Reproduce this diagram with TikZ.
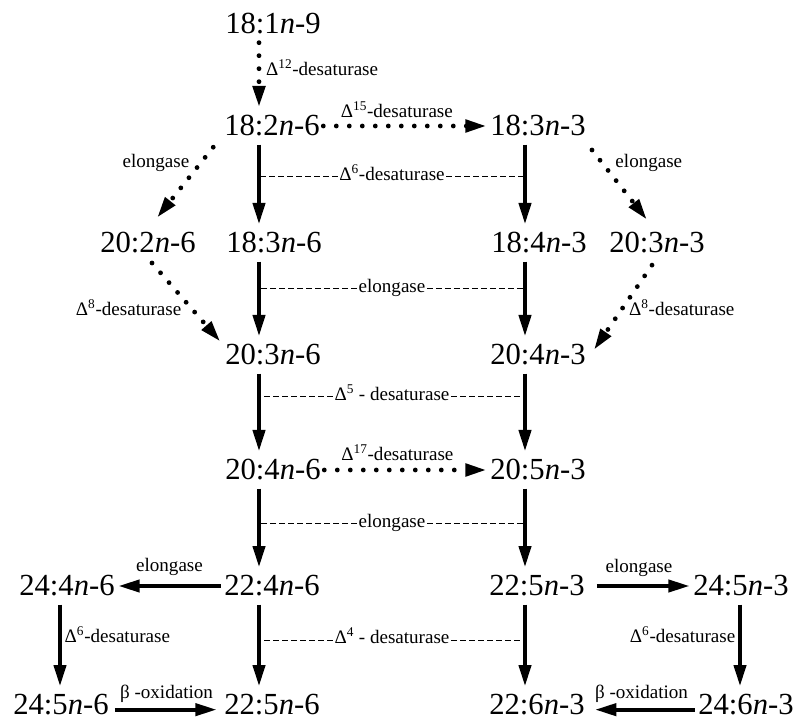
\documentclass[tikz,border=0pt]{standalone}
\usepackage{fontspec}
\setmainfont{Liberation Serif}
\newfontfamily\tnr{Liberation Serif}
\usepackage{tikz}
\usetikzlibrary{arrows.meta}
\newcommand{\facid}[3]{#1:#2\textit{n}-#3}
\newcommand{\dsat}[1]{Δ\textsuperscript{#1}-desaturase}

\begin{document}
\begin{tikzpicture}[x=0.75pt,y=-0.75pt,
  fa/.style={font=\tnr\fontsize{23}{27}\selectfont,inner xsep=2.5pt,inner ysep=6pt},
  enz/.style={font=\tnr\fontsize{14.3}{16}\selectfont,inner sep=1pt,text height=1.5ex,text depth=0.25ex},
  conv/.style={->,line width=3pt},
  dotconv/.style={->,line width=3.6pt,line cap=round,dash pattern=on 0pt off 9.75pt},
  link/.style={line width=0.75pt,dash pattern=on 4.5pt off 2.25pt},
  >={Triangle[length=16pt,width=9pt]}]
  \useasboundingbox (0,0) rectangle (797,720);
  \coordinate (colL) at (60,0); \coordinate (colA) at (259,0);
  \coordinate (colB) at (525,0); \coordinate (colR) at (740,0);

  \node[fa] (n189) at (273,24) {\facid{18}{1}{9}};
  \node[fa] (n1826) at (272,126) {\facid{18}{2}{6}};
  \node[fa] (n1833) at (538,126) {\facid{18}{3}{3}};
  \node[fa] (n2026) at (148,243) {\facid{20}{2}{6}};
  \node[fa] (n1836) at (274,243) {\facid{18}{3}{6}};
  \node[fa] (n1843) at (539,243) {\facid{18}{4}{3}};
  \node[fa] (n2033) at (657,243) {\facid{20}{3}{3}};
  \node[fa] (n2036) at (273,355) {\facid{20}{3}{6}};
  \node[fa] (n2043) at (538,355) {\facid{20}{4}{3}};
  \node[fa] (n2046) at (273,470) {\facid{20}{4}{6}};
  \node[fa] (n2053) at (538,470) {\facid{20}{5}{3}};
  \node[fa] (n2446) at (67,586) {\facid{24}{4}{6}};
  \node[fa] (n2246) at (272,586) {\facid{22}{4}{6}};
  \node[fa] (n2253) at (537,586) {\facid{22}{5}{3}};
  \node[fa] (n2453) at (741,586) {\facid{24}{5}{3}};
  \node[fa] (n2456) at (61,705) {\facid{24}{5}{6}};
  \node[fa] (n2256) at (272,705) {\facid{22}{5}{6}};
  \node[fa] (n2263) at (537,705) {\facid{22}{6}{3}};
  \node[fa] (n2463) at (746,705) {\facid{24}{6}{3}};

  \draw[dotconv] (n189.south -| colA) -- (n1826.north -| colA) node[enz,pos=0.45,right=2.5pt] {\dsat{12}};
  \draw[dotconv] (n1826.east) -- (n1833.west) node[enz,pos=0.45,above=2.5pt] {\dsat{15}};
  \draw[dotconv] ([xshift=-5.6pt,yshift=-1.9pt]n1826.south west) -- ([xshift=6.75pt,yshift=4.9pt]n2026.north) node[enz,pos=0.24,left=5pt] {elongase};
  \draw[dotconv] ([xshift=2pt,yshift=-4pt]n1833.south east) -- ([xshift=-7.5pt,yshift=3.4pt]n2033.north) node[enz,pos=0.19,right=7pt] {elongase};
  \draw[dotconv] ([xshift=3pt,yshift=-1pt]n2026.south) -- ([xshift=-1pt,yshift=-4pt]n2036.north west) node[enz,pos=0.62,left=7pt] {\dsat{8}};
  \draw[dotconv] ([xshift=-3.75pt,yshift=-2.6pt]n2033.south) -- ([xshift=3.4pt,yshift=3.75pt]n2043.east) node[enz,pos=0.55,right=4pt] {\dsat{8}};
  \draw[dotconv] (n2046.east) -- (n2053.west) node[enz,pos=0.45,above=3pt] {\dsat{17}};

  \draw[conv] (n1826.south -| colA) -- (n1836.north -| colA); \draw[conv] (n1836.south -| colA) -- (n2036.north -| colA);
  \draw[conv] (n2036.south -| colA) -- (n2046.north -| colA); \draw[conv] (n2046.south -| colA) -- (n2246.north -| colA);
  \draw[conv] (n2246.south -| colA) -- (n2256.north -| colA);
  \draw[conv] (n1833.south -| colB) -- (n1843.north -| colB); \draw[conv] (n1843.south -| colB) -- (n2043.north -| colB);
  \draw[conv] (n2043.south -| colB) -- (n2053.north -| colB); \draw[conv] (n2053.south -| colB) -- (n2253.north -| colB);
  \draw[conv] (n2253.south -| colB) -- (n2263.north -| colB);
  \draw[conv] (n2446.south -| colL) -- (n2456.north -| colL) node[enz,pos=0.42,right=1pt] {\dsat{6}};
  \draw[conv] (n2453.south -| colR) -- (n2463.north -| colR) node[enz,pos=0.42,left=1pt] {\dsat{6}};

  \draw[conv] (n2246.west) -- (n2446.east) node[enz,midway,above=7pt] {elongase};
  \draw[conv,shorten <=6.5pt] (n2253.east) -- (n2453.west) node[enz,midway,above=6.5pt] {elongase};
  \draw[conv,shorten <=2pt,shorten >=3pt] ([yshift=-3.5pt]n2456.east) -- ([yshift=-3.5pt]n2256.west) node[enz,midway,above=5pt] {β -oxidation};
  \draw[conv,shorten >=5pt] ([yshift=-3.5pt]n2463.west) -- ([yshift=-3.5pt]n2263.east) node[enz,midway,above=5pt] {β -oxidation};

  \node[enz] (d1) at (392,177) {\dsat{6}};
  \draw[link] (d1.west) -- (d1.west -| colA); \draw[link] (d1.east) -- (d1.east -| colB);
  \node[enz] (d2) at (392,289) {elongase};
  \draw[link] (d2.west) -- (d2.west -| colA); \draw[link] (d2.east) -- (d2.east -| colB);
  \node[enz] (d3) at (392,397) {Δ\textsuperscript{5} - desaturase};
  \draw[link] (d3.west) -- (d3.west -| colA); \draw[link] (d3.east) -- (d3.east -| colB);
  \node[enz] (d4) at (392,524) {elongase};
  \draw[link] (d4.west) -- (d4.west -| colA); \draw[link] (d4.east) -- (d4.east -| colB);
  \node[enz] (d5) at (392,640) {Δ\textsuperscript{4} - desaturase};
  \draw[link] (d5.west) -- (d5.west -| colA); \draw[link] (d5.east) -- (d5.east -| colB);
\end{tikzpicture}
\end{document}
